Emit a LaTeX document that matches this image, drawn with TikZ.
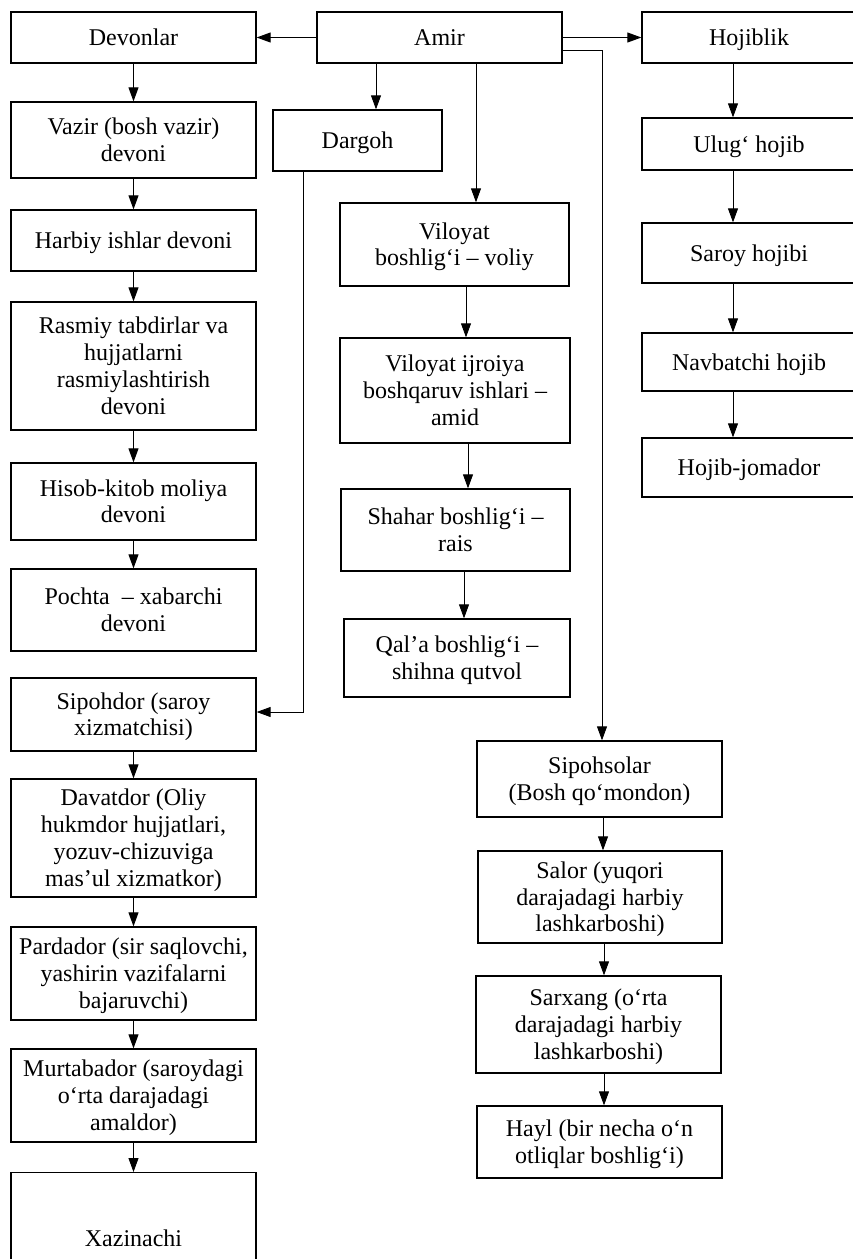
\documentclass[tikz,border=0pt]{standalone}
\usepackage{fontspec}
\setmainfont{Liberation Serif}
\usetikzlibrary{arrows.meta}
\tikzset{
  box/.style={draw, line width=1.3pt, inner sep=0pt, align=center, font=\fontsize{24}{26.7}\selectfont,
    text height=16pt, text depth=0pt},
  l2/.style={text height=42.7pt},
  l3/.style={text height=69.4pt},
  l4/.style={text height=96.1pt},
  conn/.style={line width=0.9pt, -{Triangle[length=14pt,width=10pt]}},
}
% helper: box from x1,y1 to x2,y2 (pixels, y down)
\newcommand{\bx}[6][]{\node[box,#1, minimum width={(#4)-(#2)}, minimum height={(#5)-(#3)}] (#6) at ({((#2)+(#4))/2},{((#3)+(#5))/2})}
\begin{document}
\begin{tikzpicture}[x=1pt,y=-1pt]
\useasboundingbox (0,0) rectangle (853,1259);
\clip (0,0) rectangle (853,1259);
% top row
\bx{11}{12}{256}{63}{dev} {Devonlar};
\bx{317}{12}{562}{63}{amir} {Amir};
\bx{642}{12}{856}{63}{hoj} {Hojiblik};
\bx{273}{110}{442}{171}{dar} {Dargoh};
% left column
\bx[l2]{11}{102}{256}{178}{vaz} {Vazir (bosh vazir)\\devoni};
\bx{11}{210}{256}{271}{har} {Harbiy ishlar devoni};
\bx[l4]{11}{302}{256}{430}{ras} {Rasmiy tabdirlar va\\hujjatlarni\\rasmiylashtirish\\devoni};
\bx[l2]{11}{463}{256}{540}{his} {Hisob-kitob moliya\\devoni};
\bx[l2]{11}{569}{256}{651}{poc} {Pochta\ \ – xabarchi\\devoni};
\bx[l2]{11}{678}{256}{751}{sph} {Sipohdor (saroy\\xizmatchisi)};
\bx[l4]{11}{779}{256}{897}{dav} {Davatdor (Oliy\\hukmdor hujjatlari,\\yozuv-chizuviga\\mas’ul xizmatkor)};
\bx[l3]{11}{927}{256}{1020}{par} {Pardador (sir saqlovchi,\\yashirin vazifalarni\\bajaruvchi)};
\bx[l3]{11}{1049}{256}{1142}{mur} {Murtabador (saroydagi\\o‘rta darajadagi\\amaldor)};
\node[box, anchor=north, minimum width=245pt, inner ysep=58pt] (xaz) at (133.5,1172) {Xazinachi};
% middle column
\bx[l2]{340}{203}{569}{286}{vil} {Viloyat\\boshlig‘i – voliy};
\bx[l3]{340}{338}{570}{443}{ijr} {Viloyat ijroiya\\boshqaruv ishlari –\\amid};
\bx[l2]{341}{489}{570}{571}{sha} {Shahar boshlig‘i –\\rais};
\bx[l2]{344}{619}{570}{697}{qal} {Qal’a boshlig‘i –\\shihna qutvol};
% right column
\bx{642}{118}{856}{170}{ulu} {Ulug‘ hojib};
\bx{642}{223}{856}{283}{sar} {Saroy hojibi};
\bx{642}{333}{856}{391}{nav} {Navbatchi hojib};
\bx{642}{438}{856}{497}{jom} {Hojib-jomador};
% military column
\bx[l2]{477}{741}{722}{817}{sps} {Sipohsolar\\(Bosh qo‘mondon)};
\bx[l3]{478}{851}{722}{943}{sal} {Salor (yuqori\\darajadagi harbiy\\lashkarboshi)};
\bx[l3]{476}{976}{721}{1073}{sxg} {Sarxang (o‘rta\\darajadagi harbiy\\lashkarboshi)};
\bx[l2]{477}{1106}{722}{1178}{hay} {Hayl (bir necha o‘n\\otliqlar boshlig‘i)};

% connectors from Amir
\draw[conn] (amir.west) -- (dev.east);
\draw[conn] (amir.east) -- (hoj.west);
\draw[conn] (amir.south -| 376,0) -- (dar.north -| 376,0);
\draw[conn] (amir.south -| 476,0) -- (vil.north -| 476,0);
\coordinate (a1) at (602,50);
\draw[conn] (amir.east |- a1) -- (a1) -- (sps.north -| a1);
% Dargoh to Sipohdor
\coordinate (d1) at (303,712);
\draw[conn] (dar.south -| d1) -- (d1) -- (sph.east |- d1);
% left column
\draw[conn] (dev) -- (vaz);
\draw[conn] (vaz) -- (har);
\draw[conn] (har) -- (ras);
\draw[conn] (ras) -- (his);
\draw[conn] (his) -- (poc);
\draw[conn] (sph) -- (dav);
\draw[conn] (dav) -- (par);
\draw[conn] (par) -- (mur);
\draw[conn] (mur.south) -- (xaz.north);
% middle column
\draw[conn] (vil.south -| 466,0) -- (ijr.north -| 466,0);
\draw[conn] (ijr.south -| 468,0) -- (sha.north -| 468,0);
\draw[conn] (sha.south -| 464,0) -- (qal.north -| 464,0);
% right column
\draw[conn] (hoj.south -| 733,0) -- (ulu.north -| 733,0);
\draw[conn] (ulu.south -| 733,0) -- (sar.north -| 733,0);
\draw[conn] (sar.south -| 733,0) -- (nav.north -| 733,0);
\draw[conn] (nav.south -| 733,0) -- (jom.north -| 733,0);
% military column
\draw[conn] (sps.south -| 603,0) -- (sal.north -| 603,0);
\draw[conn] (sal.south -| 604,0) -- (sxg.north -| 604,0);
\draw[conn] (sxg.south -| 604,0) -- (hay.north -| 604,0);
\end{tikzpicture}
\end{document}
